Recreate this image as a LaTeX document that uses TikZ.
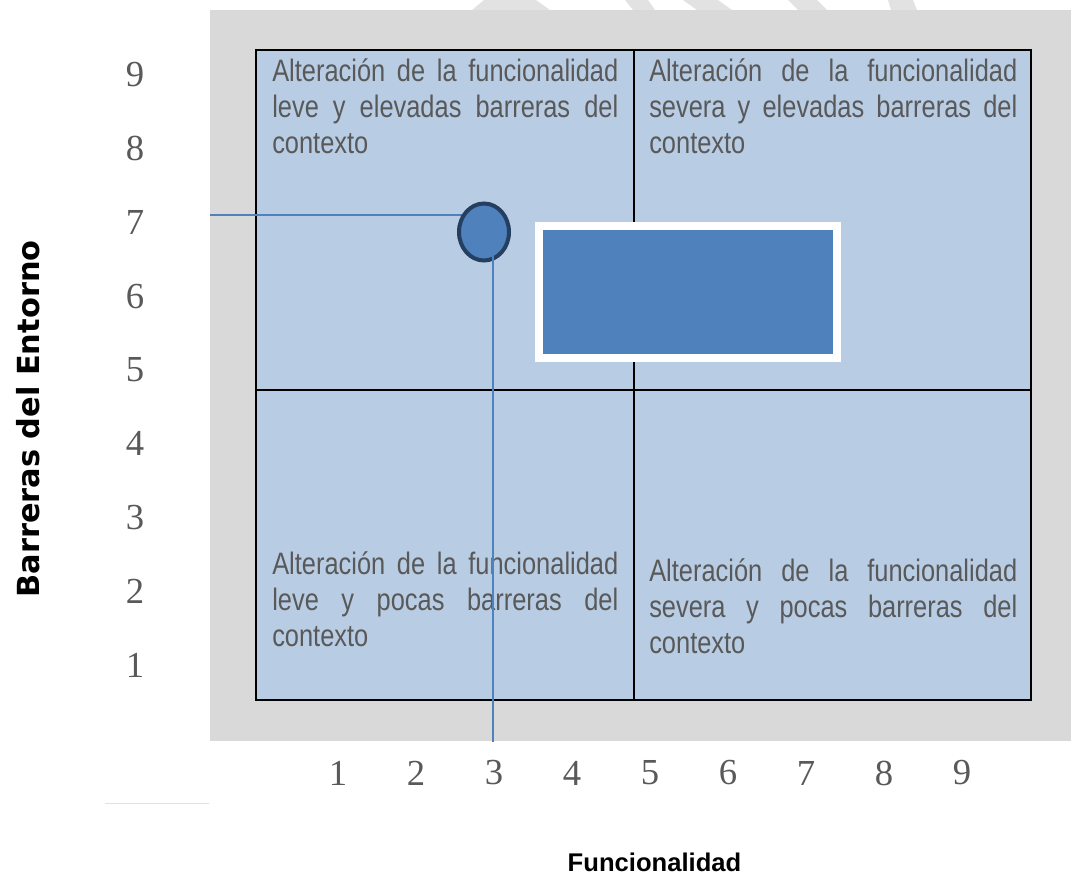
\documentclass[tikz,border=0pt]{standalone}
\usepackage{fontspec}
\usepackage{xcolor}
\usetikzlibrary{shapes.geometric,shadows}
\setmainfont{Liberation Sans}
\newfontfamily\quadfont[FakeStretch=0.82]{Liberation Sans}
\newfontfamily\numfont{Liberation Serif}
\newfontfamily\axisfont{DejaVu Sans}
\definecolor{hintergrund}{HTML}{D9D9D9}
\definecolor{feld}{HTML}{B8CCE4}
\definecolor{schrift}{HTML}{595959}
\definecolor{punktblau}{HTML}{4F81BD}
\definecolor{rand}{HTML}{243F60}
\definecolor{wasserzeichen}{HTML}{E2E2E2}
\tolerance=10000
\hbadness=10000

\begin{document}
\begin{tikzpicture}[x=0.75pt,y=-0.75pt,
		quadtext/.style={anchor=north west,inner sep=0pt,align=justify,text=schrift,
			font=\quadfont\fontsize{23.25pt}{27.2pt}\selectfont},
		zahl/.style={inner sep=0pt,text=schrift,font=\numfont\fontsize{27.5pt}{30pt}\selectfont},
		hilfslinie/.style={draw=punktblau,line width=1.1pt},
		gitter/.style={black,line width=1.6pt}]
		\useasboundingbox (0,0) rectangle (1071,876);

		% Wasserzeichen
		\fill[wasserzeichen] (472,10) -- (484,0) -- (536,0) -- (550,10) -- cycle;
		\fill[wasserzeichen] (625,0) -- (648,0) -- (655,10) -- (633,10) -- cycle;
		\fill[wasserzeichen] (683,0) -- (718,0) -- (732,10) -- (697,10) -- cycle;
		\fill[wasserzeichen] (788,0) -- (817,0) -- (827,10) -- (798,10) -- cycle;
		\fill[wasserzeichen] (888,0) -- (913,0) -- (917,10) -- (891,10) -- cycle;

		% Hintergrund
		\fill[hintergrund] (210,10) rectangle (1071,741);
		\draw[wasserzeichen, line width=0.75pt] (105,803) -- (209,803);

		% Koordinaten
		\coordinate (lo) at (256,50);
		\coordinate (ru) at (1031,700);
		\coordinate (mo) at (634,50);
		\coordinate (mu) at (634,700);
		\coordinate (ml) at (256,390);
		\coordinate (mr) at (1031,390);

		% Quadranten
		\draw[gitter, fill=feld] (lo) rectangle (ru);
		\draw[gitter] (mo) -- (mu);
		\draw[gitter] (ml) -- (mr);

		% Texte
		\node[quadtext, text width=259.5pt] (text_lo) at (272,58) {Alteración de la funcionalidad\linebreak leve y elevadas barreras del\linebreak contexto};
		\node[quadtext, text width=276pt] (text_ro) at (649,58) {Alteración de la funcionalidad\linebreak severa y elevadas barreras del\linebreak contexto};
		\node[quadtext, text width=259.5pt] (text_lu) at (272,551) {Alteración de la funcionalidad\linebreak leve y pocas barreras del\linebreak contexto};
		\node[quadtext, text width=276pt] (text_ru) at (649,558) {Alteración de la funcionalidad\linebreak severa y pocas barreras del\linebreak contexto};

		% Punkt und Hilfslinien
		\coordinate (ylink) at (210,215);
		\coordinate (yende) at (467,215);
		\coordinate (xlink) at (493,742);
		\coordinate (xende) at (493,217);
		\draw[hilfslinie] (ylink) -- (yende);
		\node[ellipse, draw=rand, fill=punktblau, line width=3pt, minimum width=37.5pt, minimum height=42.75pt, inner sep=0pt] (punkt) at (484,232) {};
		\draw[hilfslinie] (xlink) -- (xende);

		% Kasten
		\node[fill=punktblau, draw=white, line width=6.2pt, minimum width=224pt, minimum height=98.6pt, inner sep=0pt,
			drop shadow={shadow xshift=3pt, shadow yshift=-3.5pt, opacity=0.3}] (kasten) at (688,292) {};

		% Achsen
		\foreach \k in {1,...,9}{
			\node[zahl] (y\k) at (135,{75+73.75*(9-\k)}) {\k};
			\node[zahl] (x\k) at ({338+78*(\k-1)},773) {\k};
		}
		\node[font=\axisfont\bfseries\fontsize{22.8pt}{24pt}\selectfont, rotate=90, inner sep=0pt] (ylabel) at (28.5,419) {Barreras del Entorno};
		\node[font=\bfseries\fontsize{19.2pt}{20pt}\selectfont, inner sep=0pt] (xlabel) at (654.5,862) {Funcionalidad};
	\end{tikzpicture}
\end{document}
